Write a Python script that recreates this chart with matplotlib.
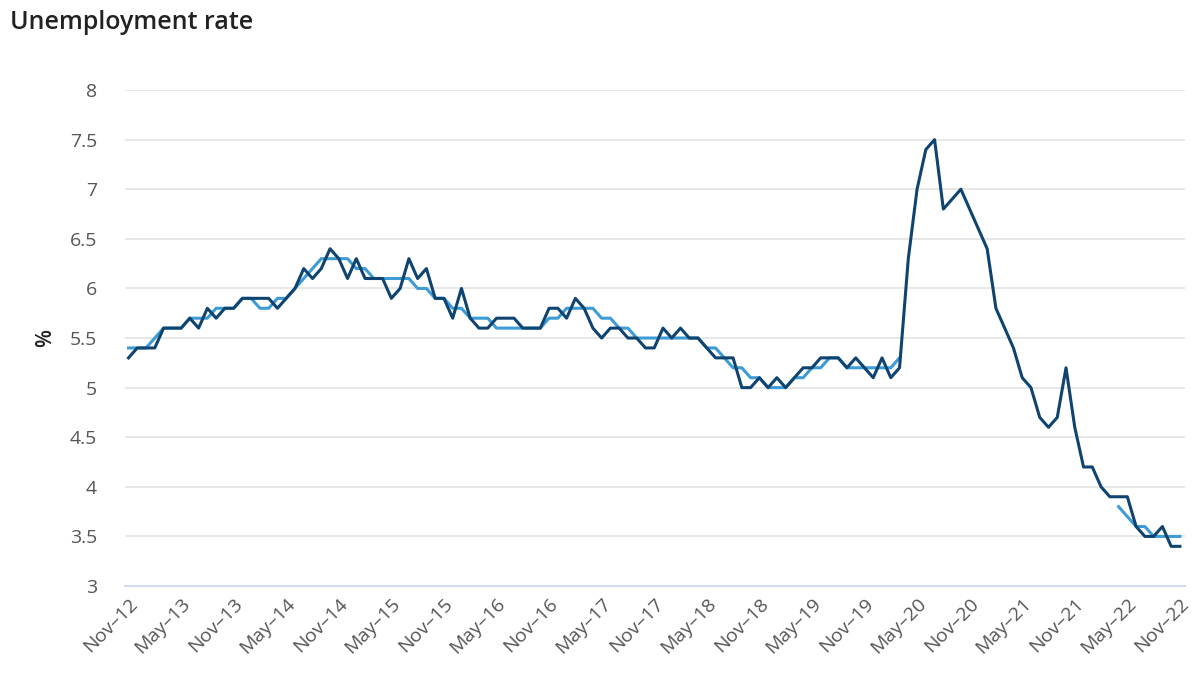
import numpy as np
import pandas as pd
import matplotlib
matplotlib.use("Agg")
import matplotlib.pyplot as plt

plt.rcParams['font.family'] = ['Open Sans', 'DejaVu Sans']

# monthly, Nov-12 .. Nov-22
months = pd.date_range('2012-11-01', '2022-11-01', freq='MS')

# seasonally adjusted (dark line)
seas_adj = [5.3, 5.4, 5.4, 5.4, 5.6, 5.6, 5.6, 5.7, 5.6, 5.8,
            5.7, 5.8, 5.8, 5.9, 5.9, 5.9, 5.9, 5.8, 5.9, 6.0,
            6.2, 6.1, 6.2, 6.4, 6.3, 6.1, 6.3, 6.1, 6.1, 6.1,
            5.9, 6.0, 6.3, 6.1, 6.2, 5.9, 5.9, 5.7, 6.0, 5.7,
            5.6, 5.6, 5.7, 5.7, 5.7, 5.6, 5.6, 5.6, 5.8, 5.8,
            5.7, 5.9, 5.8, 5.6, 5.5, 5.6, 5.6, 5.5, 5.5, 5.4,
            5.4, 5.6, 5.5, 5.6, 5.5, 5.5, 5.4, 5.3, 5.3, 5.3,
            5.0, 5.0, 5.1, 5.0, 5.1, 5.0, 5.1, 5.2, 5.2, 5.3,
            5.3, 5.3, 5.2, 5.3, 5.2, 5.1, 5.3, 5.1, 5.2, 6.3,
            7.0, 7.4, 7.5, 6.8, 6.9, 7.0, 6.8, 6.6, 6.4, 5.8,
            5.6, 5.4, 5.1, 5.0, 4.7, 4.6, 4.7, 5.2, 4.6, 4.2,
            4.2, 4.0, 3.9, 3.9, 3.9, 3.6, 3.5, 3.5, 3.6, 3.4, 3.4]

# trend (light line), suspended Apr-20 .. Mar-22
trend = [5.4, 5.4, 5.4, 5.5, 5.6, 5.6, 5.6, 5.7, 5.7, 5.7,
         5.8, 5.8, 5.8, 5.9, 5.9, 5.8, 5.8, 5.9, 5.9, 6.0,
         6.1, 6.2, 6.3, 6.3, 6.3, 6.3, 6.2, 6.2, 6.1, 6.1,
         6.1, 6.1, 6.1, 6.0, 6.0, 5.9, 5.9, 5.8, 5.8, 5.7,
         5.7, 5.7, 5.6, 5.6, 5.6, 5.6, 5.6, 5.6, 5.7, 5.7,
         5.8, 5.8, 5.8, 5.8, 5.7, 5.7, 5.6, 5.6, 5.5, 5.5,
         5.5, 5.5, 5.5, 5.5, 5.5, 5.5, 5.4, 5.4, 5.3, 5.2,
         5.2, 5.1, 5.1, 5.0, 5.0, 5.0, 5.1, 5.1, 5.2, 5.2,
         5.3, 5.3, 5.2, 5.2, 5.2, 5.2, 5.2, 5.2, 5.3] + [np.nan] * 24 + \
        [3.8, 3.7, 3.6, 3.6, 3.5, 3.5, 3.5, 3.5]

y_ticks = [3, 3.5, 4, 4.5, 5, 5.5, 6, 6.5, 7, 7.5, 8]
y_tick_labels = ['3', '3.5', '4', '4.5', '5', '5.5', '6', '6.5', '7', '7.5', '8']

x = np.arange(len(months))
tick_idx = x[::6]
tick_labels = [m.strftime('%b') + '\u2013' + m.strftime('%y') for m in months[::6]]

fig = plt.figure(figsize=(12.02, 6.8), dpi=100)
ax = fig.add_axes([0.104, 0.1382, 0.882, 0.7294])

ax.plot(x, trend, color='#3d9bd6', lw=2.2, zorder=3)
ax.plot(x, seas_adj, color='#0f4470', lw=2.2, zorder=4)

ax.set_xlim(-0.4, 120.6)
ax.set_ylim(3, 8)
ax.set_yticks(y_ticks)
ax.set_yticklabels(y_tick_labels)
ax.set_xticks(tick_idx)
ax.set_xticklabels(tick_labels, rotation=45, ha='right', rotation_mode='anchor')

ax.grid(axis='y', color='#e3e3e3', lw=1.2)
ax.set_axisbelow(True)
for s in ['top', 'right', 'left']:
    ax.spines[s].set_visible(False)
ax.spines['bottom'].set_color('#d3dbea')
ax.spines['bottom'].set_linewidth(1.5)
ax.tick_params(axis='both', length=0, labelsize=14, colors='#555555')
ax.tick_params(axis='y', pad=20)
ax.tick_params(axis='x', pad=6)

ax.set_ylabel('%', fontsize=15, fontweight='semibold', color='#222222', labelpad=10)

fig.text(0.008, 0.967, 'Unemployment rate', fontsize=18, fontweight='semibold',
         color='#222222', va='center', ha='left')

plt.savefig('out.png', dpi=100)
